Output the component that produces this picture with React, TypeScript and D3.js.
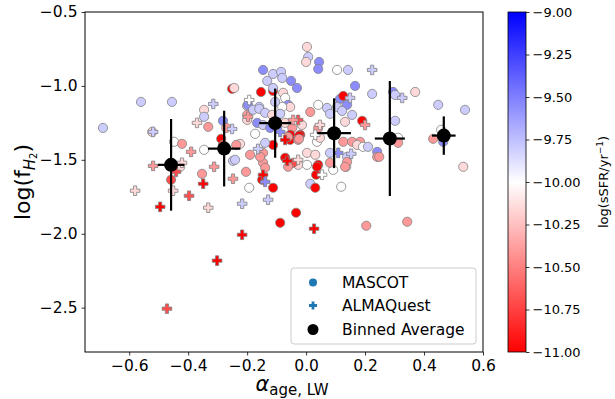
import React, { useEffect, useRef } from 'react';
import * as d3 from 'd3';

// MASCOT galaxies: light-weighted age gradient, log gas fraction, log sSFR
const mascotAge = [
  -0.689, -0.560, -0.455, -0.522, -0.346, -0.346, -0.332, -0.251, -0.244, -0.282,
  -0.271, -0.288, -0.282, -0.448, -0.421, -0.346, -0.224, -0.248, -0.427, -0.458,
  -0.353, -0.204, -0.193, -0.237, -0.241, -0.200, -0.200, -0.159, -0.153, -0.146,
  -0.132, -0.112, -0.112, -0.085, -0.081, -0.051, -0.031, 0.003, 0.007, 0.000,
  0.044, 0.041, 0.105, 0.142, 0.166, 0.224, -0.112, -0.078, -0.071, -0.061,
  -0.054, -0.081, -0.105, -0.197, -0.180, -0.159, -0.139, -0.115, -0.088, -0.200,
  -0.166, -0.146, -0.122, -0.071, -0.047, -0.054, -0.020, -0.014, 0.014, -0.054,
  -0.027, -0.112, -0.139, -0.173, -0.190, -0.146, -0.071, 0.003, 0.031, -0.027,
  0.003, 0.041, -0.146, -0.156, -0.061, -0.024, -0.024, -0.044, 0.014, 0.031,
  0.034, 0.037, 0.092, 0.119, 0.136, -0.061, -0.139, -0.149, -0.112, -0.088,
  -0.034, 0.204, 0.343, 0.041, 0.071, 0.081, 0.115, 0.126, 0.139, 0.105,
  0.122, 0.156, 0.132, 0.190, 0.041, 0.037, 0.047, 0.126, 0.156, 0.183,
  0.173, 0.193, 0.210, 0.241, 0.241, 0.081, 0.139, 0.081, 0.139, 0.132,
  0.295, 0.302, 0.370, 0.448, 0.539, 0.302, 0.312, 0.312, 0.248, 0.458,
  0.431, 0.465, 0.533,
];
const mascotFH2 = [
  -1.284, -1.108, -1.108, -1.311, -1.162, -1.209, -1.277, -1.020, -1.014, -1.236,
  -1.284, -1.358, -1.399, -1.378, -1.392, -1.432, -1.392, -1.507, -1.547, -1.635,
  -1.595, -1.581, -1.689, -1.399, -1.500, -1.135, -1.196, -1.142, -1.041, -0.892,
  -0.966, -0.919, -1.034, -0.905, -0.946, -0.966, -1.014, -0.736, -0.804, -0.838,
  -0.838, -0.885, -0.892, -0.892, -1.000, -1.054, -1.014, -1.047, -1.081, -1.128,
  -1.142, -1.142, -1.108, -1.128, -1.162, -1.155, -1.182, -1.196, -1.189, -1.230,
  -1.250, -1.264, -1.284, -1.250, -1.284, -1.331, -1.331, -1.264, -1.176, -1.365,
  -1.365, -1.399, -1.385, -1.324, -1.466, -1.453, -1.486, -1.453, -1.466, -1.534,
  -1.534, -1.534, -1.520, -1.480, -1.345, -1.338, -1.358, -1.520, -1.662, -1.689,
  -1.601, -1.547, -1.568, -1.682, -1.547, -1.547, -1.554, -1.635, -1.689, -1.926,
  -1.858, -1.946, -1.919, -1.128, -1.149, -1.189, -1.088, -1.068, -1.128, -1.142,
  -1.169, -1.196, -1.243, -1.236, -1.284, -1.378, -1.351, -1.378, -1.378, -1.378,
  -1.399, -1.412, -1.412, -1.446, -1.480, -1.453, -1.480, -1.520, -1.514, -1.547,
  -1.041, -1.061, -1.041, -1.128, -1.162, -1.236, -1.351, -1.385, -1.480, -1.297,
  -1.358, -1.378, -1.547,
];
const mascotSSFR = [
  -9.8, -9.8, -9.8, -10.15, -10.15, -9.8, -10.4, -11.0, -10.15, -9.55,
  -10.4, -11.0, -10.7, -10.0, -10.4, -10.0, -10.15, -9.8, -10.15, -10.7,
  -10.4, -10.4, -10.0, -10.4, -9.8, -9.8, -10.4, -9.8, -11.0, -9.55,
  -9.8, -9.8, -11.0, -9.8, -9.8, -9.55, -9.55, -10.15, -9.8, -10.15,
  -9.55, -9.55, -10.0, -9.8, -9.55, -9.8, -9.8, -10.15, -10.0, -9.55,
  -10.15, -10.0, -9.8, -9.55, -9.8, -9.8, -9.8, -10.15, -9.8, -10.15,
  -9.55, -9.8, -9.55, -10.15, -10.4, -11.0, -11.0, -10.15, -10.4, -11.0,
  -10.4, -11.0, -9.8, -10.0, -10.4, -10.4, -11.0, -10.15, -10.15, -10.15,
  -10.0, -11.0, -10.4, -10.4, -10.4, -11.0, -10.4, -10.7, -9.8, -11.0,
  -11.0, -11.0, -10.0, -10.0, -10.15, -10.4, -10.4, -11.0, -11.0, -11.0,
  -11.0, -10.4, -10.4, -10.0, -9.8, -9.8, -9.55, -11.0, -9.55, -9.8,
  -9.8, -9.8, -10.15, -11.0, -10.4, -10.0, -10.15, -10.4, -10.4, -10.4,
  -10.15, -10.0, -9.8, -9.55, -10.4, -9.8, -9.8, -10.4, -10.4, -10.4,
  -9.55, -9.8, -10.15, -9.8, -9.8, -9.8, -10.0, -10.4, -10.4, -10.0,
  -10.4, -9.55, -10.15,
];

// ALMAQuest galaxies
const almaAge = [
  -0.519, -0.370, -0.315, -0.251, -0.390, -0.519, -0.421, -0.312, -0.441, -0.580,
  -0.451, -0.397, -0.349, -0.495, -0.332, -0.302, -0.472, -0.248, -0.217, -0.217,
  -0.163, -0.146, -0.139, -0.129, -0.193, -0.197, -0.088, -0.027, -0.044, -0.071,
  -0.064, -0.027, 0.027, 0.054, 0.047, 0.031, 0.149, 0.200, 0.109, 0.224,
  0.326, 0.153,
];
const almaFH2 = [
  -1.311, -1.250, -1.122, -1.291, -1.446, -1.541, -1.520, -1.547, -1.581, -1.709,
  -1.709, -1.743, -1.662, -1.818, -1.824, -2.182, -2.507, -1.628, -1.797, -2.007,
  -1.426, -1.601, -1.649, -1.770, -1.095, -1.209, -1.311, -1.230, -1.230, -1.365,
  -1.507, -1.500, -1.966, -1.601, -1.264, -1.331, -1.081, -1.264, -1.453, -0.892,
  -1.081, -1.459,
];
const almaSSFR = [
  -9.8, -10.15, -9.8, -9.8, -10.4, -10.4, -10.15, -10.4, -10.7, -10.15,
  -10.15, -10.7, -11.0, -11.0, -10.15, -11.0, -10.7, -10.4, -9.8, -11.0,
  -9.8, -11.0, -9.55, -9.8, -10.0, -10.4, -9.55, -10.7, -10.4, -11.0,
  -11.0, -10.15, -11.0, -10.0, -10.15, -10.0, -9.8, -10.4, -9.55, -9.8,
  -9.8, -9.8,
];

// binned averages with errors
const binAge = [-0.458, -0.278, -0.105, 0.095, 0.284, 0.467];
const binFH2 = [-1.534, -1.424, -1.252, -1.320, -1.356, -1.336];
const binAgeErr = [0.045, 0.055, 0.054, 0.057, 0.051, 0.040];
const binFH2Err = [0.310, 0.256, 0.234, 0.236, 0.389, 0.130];

const xTicks = [-0.6, -0.4, -0.2, 0.0, 0.2, 0.4, 0.6];
const yTicks = [-0.5, -1.0, -1.5, -2.0, -2.5];
const cbarTicks = [-9.0, -9.25, -9.5, -9.75, -10.0, -10.25, -10.5, -10.75, -11.0];
const legendLabels = ['MASCOT', 'ALMAQuest', 'Binned Average'];

const FONT = 'DejaVu Sans, sans-serif';

const plusPath = (cx: number, cy: number, L = 4.8, a = 1.6) =>
  `M${cx - a},${cy - L}H${cx + a}V${cy - a}H${cx + L}V${cy + a}H${cx + a}V${cy + L}` +
  `H${cx - a}V${cy + a}H${cx - L}V${cy - a}H${cx - a}Z`;

const App = () => {
  const svgRef = useRef<SVGSVGElement | null>(null);

  useEffect(() => {
    const svg = d3.select(svgRef.current);
    svg.selectAll('*').remove();

    const width = 615;
    const height = 399;
    const margin = { top: 12, left: 85, right: 483, bottom: 352 };

    svg.attr('width', width).attr('height', height);

    const x = d3.scaleLinear().domain([-0.75, 0.6]).range([margin.left, margin.right]);
    const y = d3.scaleLinear().domain([-2.8, -0.5]).range([margin.bottom, margin.top]);
    const color = d3.scaleLinear<string>()
      .domain([-11, -10, -9])
      .range(['#ff0000', '#ffffff', '#0000ff'])
      .clamp(true);

    // clip for points
    svg.append('defs').append('clipPath').attr('id', 'plotclip')
      .append('rect')
      .attr('x', margin.left).attr('y', margin.top)
      .attr('width', margin.right - margin.left).attr('height', margin.bottom - margin.top);

    const plot = svg.append('g').attr('clip-path', 'url(#plotclip)');

    // MASCOT circles
    plot.selectAll('.mascot')
      .data(d3.range(mascotAge.length))
      .enter()
      .append('circle')
      .attr('cx', i => x(mascotAge[i]))
      .attr('cy', i => y(mascotFH2[i]))
      .attr('r', 4.6)
      .attr('fill', i => color(mascotSSFR[i]))
      .attr('stroke', '#808080')
      .attr('stroke-width', 0.8);

    // ALMAQuest plus markers
    plot.selectAll('.alma')
      .data(d3.range(almaAge.length))
      .enter()
      .append('path')
      .attr('d', i => plusPath(x(almaAge[i]), y(almaFH2[i])))
      .attr('fill', i => color(almaSSFR[i]))
      .attr('stroke', '#808080')
      .attr('stroke-width', 0.8);

    // binned averages
    const bins = plot.append('g');
    binAge.forEach((a, i) => {
      bins.append('line')
        .attr('x1', x(a - binAgeErr[i])).attr('x2', x(a + binAgeErr[i]))
        .attr('y1', y(binFH2[i])).attr('y2', y(binFH2[i]))
        .attr('stroke', 'black').attr('stroke-width', 2.2);
      bins.append('line')
        .attr('x1', x(a)).attr('x2', x(a))
        .attr('y1', y(binFH2[i] - binFH2Err[i])).attr('y2', y(binFH2[i] + binFH2Err[i]))
        .attr('stroke', 'black').attr('stroke-width', 2.2);
      bins.append('circle')
        .attr('cx', x(a)).attr('cy', y(binFH2[i]))
        .attr('r', 7).attr('fill', 'black');
    });

    // frame
    svg.append('rect')
      .attr('x', margin.left).attr('y', margin.top)
      .attr('width', margin.right - margin.left).attr('height', margin.bottom - margin.top)
      .attr('fill', 'none').attr('stroke', 'black').attr('stroke-width', 1);

    // axes
    const xAxis = svg.append('g')
      .attr('transform', `translate(0,${margin.bottom})`)
      .call(d3.axisBottom(x).tickValues(xTicks).tickSize(3.5).tickPadding(4).tickFormat(d3.format('.1f')));
    const yAxis = svg.append('g')
      .attr('transform', `translate(${margin.left},0)`)
      .call(d3.axisLeft(y).tickValues(yTicks).tickSize(3.5).tickPadding(4).tickFormat(d3.format('.1f')));
    [xAxis, yAxis].forEach(g => {
      g.select('.domain').remove();
      g.selectAll('line').attr('stroke', 'black').attr('stroke-width', 0.8);
      g.selectAll('text').style('font-family', FONT).style('font-size', '15.5px').attr('fill', 'black');
    });

    // axis labels
    const xl = svg.append('text')
      .attr('x', 292).attr('y', 391)
      .attr('text-anchor', 'middle')
      .style('font-family', FONT).style('font-size', '21px');
    xl.append('tspan').style('font-style', 'italic').text('α');
    xl.append('tspan').attr('dy', 4).style('font-size', '15px').text('age, LW');

    const yl = svg.append('text')
      .attr('transform', `translate(30,${(margin.top + margin.bottom) / 2}) rotate(-90)`)
      .attr('text-anchor', 'middle')
      .style('font-family', FONT).style('font-size', '22px');
    yl.append('tspan').text('log(f');
    yl.append('tspan').attr('dy', 5).style('font-size', '15px').style('font-style', 'italic').text('H');
    yl.append('tspan').style('font-size', '10px').attr('dy', 2).text('2');
    yl.append('tspan').attr('dy', -7).text(')');

    // legend
    const lg = svg.append('g');
    lg.append('rect')
      .attr('x', 291).attr('y', 268).attr('width', 185).attr('height', 76)
      .attr('rx', 3).attr('fill', 'white').attr('fill-opacity', 0.8)
      .attr('stroke', '#cccccc').attr('stroke-width', 1);
    const rows = [282.5, 305.5, 329.5];
    lg.append('circle').attr('cx', 313).attr('cy', rows[0]).attr('r', 4).attr('fill', '#1f77b4');
    lg.append('path').attr('d', plusPath(313, rows[1], 4, 1.4)).attr('fill', '#1f77b4');
    lg.append('circle').attr('cx', 313).attr('cy', rows[2]).attr('r', 5.5).attr('fill', 'black');
    legendLabels.forEach((t, i) => {
      lg.append('text')
        .attr('x', 342).attr('y', rows[i]).attr('dy', '0.35em')
        .style('font-family', FONT).style('font-size', '15.5px')
        .text(t);
    });

    // colorbar
    const cb = { x: 508, w: 18, top: 12, bottom: 352 };
    const defs = svg.select('defs');
    const grad = defs.append('linearGradient').attr('id', 'cbgrad')
      .attr('x1', 0).attr('y1', 0).attr('x2', 0).attr('y2', 1);
    grad.append('stop').attr('offset', '0%').attr('stop-color', '#0000ff');
    grad.append('stop').attr('offset', '50%').attr('stop-color', '#ffffff');
    grad.append('stop').attr('offset', '100%').attr('stop-color', '#ff0000');
    svg.append('rect')
      .attr('x', cb.x).attr('y', cb.top).attr('width', cb.w).attr('height', cb.bottom - cb.top)
      .attr('fill', 'url(#cbgrad)').attr('stroke', 'black').attr('stroke-width', 0.8);
    const cScale = d3.scaleLinear().domain([-11, -9]).range([cb.bottom, cb.top]);
    const cAxis = svg.append('g')
      .attr('transform', `translate(${cb.x + cb.w},0)`)
      .call(d3.axisRight(cScale).tickValues(cbarTicks).tickSize(3.5).tickPadding(3).tickFormat(d3.format('.2f')));
    cAxis.select('.domain').remove();
    cAxis.selectAll('line').attr('stroke', 'black').attr('stroke-width', 0.8);
    cAxis.selectAll('text').style('font-family', FONT).style('font-size', '13px').attr('fill', 'black');

    const cl = svg.append('text')
      .attr('transform', `translate(608,${(cb.top + cb.bottom) / 2}) rotate(-90)`)
      .attr('text-anchor', 'middle')
      .style('font-family', FONT).style('font-size', '13px');
    cl.append('tspan').text('log(sSFR/yr');
    cl.append('tspan').attr('dy', -5).style('font-size', '9px').text('−1');
    cl.append('tspan').attr('dy', 5).text(')');
  }, []);

  return (
    <div style={{ position: 'absolute', left: 0, top: 0 }}>
      <svg ref={svgRef}></svg>
    </div>
  );
};

export default App;
